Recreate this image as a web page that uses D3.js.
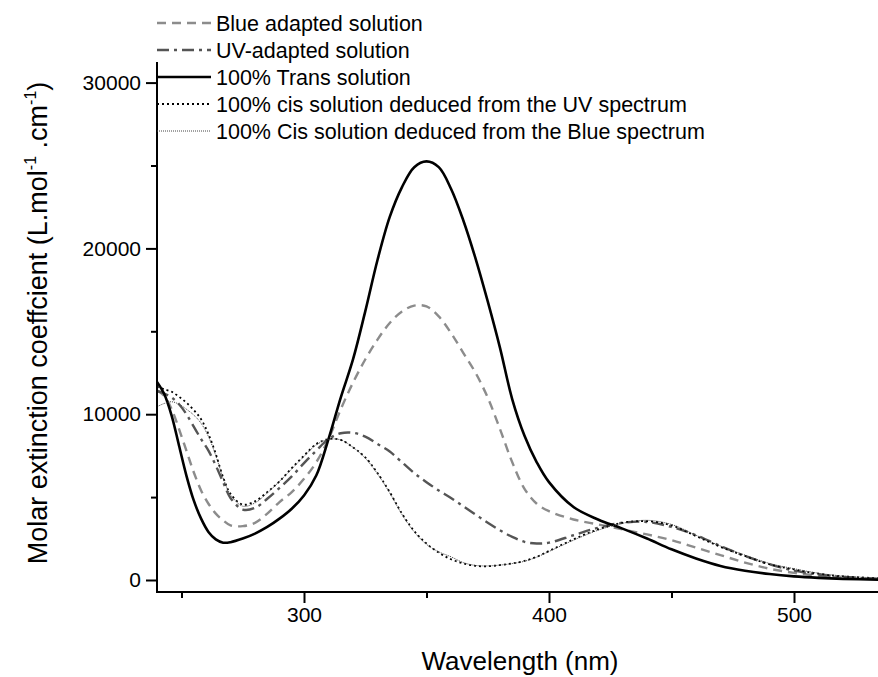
<!DOCTYPE html>
<html>
<head>
<meta charset="utf-8">
<script src="https://cdn.jsdelivr.net/npm/d3@7"></script>
<style>
  body{margin:0;background:#fff;}
  svg{display:block;font-family:"Liberation Sans",Arial,sans-serif;}
</style>
</head>
<body>
<svg id="chart" width="878" height="677"></svg>
<script>
// wavelengths (nm) shared by every series
const wavelength = [240,243,246,249,252,255,258,261,264,267,270,275,280,285,290,295,300,305,310,315,320,325,330,335,340,345,350,355,360,365,370,375,380,385,390,395,400,410,420,430,440,450,460,470,480,490,500,510,520,535];

const blueAdapted = [11450,11100,10300,9100,7800,6500,5400,4600,4000,3600,3300,3250,3450,4000,4700,5300,6100,7100,8500,10300,11900,13300,14500,15500,16200,16550,16500,15900,14900,13700,12500,11000,9100,7100,5500,4600,4150,3650,3350,3050,2750,2400,1950,1500,1050,680,430,260,150,60];
const uvAdapted = [11400,11250,11000,10600,10000,9250,8500,7800,6900,5900,4950,4250,4350,4900,5550,6250,7050,7800,8500,8850,8880,8650,8200,7750,7100,6450,5900,5400,4950,4450,3950,3450,3000,2600,2300,2200,2250,2700,3150,3450,3500,3200,2700,2050,1450,950,570,330,180,60];
const trans = [11950,11200,9900,8100,6300,4800,3700,2900,2450,2250,2280,2500,2800,3200,3700,4300,5100,6300,8500,11000,13300,16200,19300,21900,23700,24900,25250,24900,23600,21700,19400,16800,14000,10900,8700,7100,5900,4400,3650,3100,2500,1850,1300,850,560,360,220,130,70,20];
const cisFromUV = [11650,11500,11350,11050,10700,10250,9700,8800,7600,6200,5200,4550,4750,5300,5950,6750,7500,8200,8500,8450,8000,7400,6450,5300,4000,2950,2200,1650,1250,1000,850,830,900,1000,1150,1400,1750,2450,3050,3450,3550,3300,2650,2000,1450,950,640,380,220,100];
const cisFromBlue = [10450,10650,10750,10600,10300,9950,9450,8650,7500,6150,5150,4450,4650,5250,5950,6700,7450,8150,8480,8450,8000,7350,6400,5250,3950,2900,2150,1700,1400,1050,880,850,900,990,1130,1380,1720,2400,3000,3420,3600,3350,2700,2050,1500,1000,680,410,240,110];

const legendLabels = ["Blue adapted solution","UV-adapted solution","100% Trans solution","100% cis solution deduced from the UV spectrum","100% Cis solution deduced from the Blue spectrum"];
const xTicks = [300,400,500];
const xMinor = [250,350,450];
const yTicks = [0,10000,20000,30000];
const yMinor = [5000,15000,25000];

const series = [
  {values: blueAdapted, stroke:"#8c8c8c", width:2.4, dash:"9,6"},
  {values: uvAdapted,   stroke:"#555",    width:2.4, dash:"12,5,3,5"},
  {values: trans,       stroke:"#000",    width:2.6, dash:null},
  {values: cisFromUV,   stroke:"#000",    width:1.8, dash:"2,3"},
  {values: cisFromBlue, stroke:"#444",    width:1,   dash:"1,1"}
];

const svg = d3.select("#chart");
const left = 157, bottom = 592;

const x = d3.scaleLinear().domain([240, 535]).range([left, left + 295*2.45]);
const y = d3.scaleLinear().domain([-724, 31250]).range([bottom, 580 - 31250*0.01658]);

// curves
const line = d3.line()
  .x((d,i)=>x(wavelength[i]))
  .y(d=>y(d))
  .curve(d3.curveCatmullRom);

svg.append("g").selectAll("path").data(series).enter().append("path")
  .attr("d", d=>line(d.values))
  .attr("fill","none")
  .attr("stroke", d=>d.stroke)
  .attr("stroke-width", d=>d.width)
  .attr("stroke-dasharray", d=>d.dash);

// axes
const xAxis = svg.append("g").attr("transform","translate(0,"+bottom+")");
xAxis.call(d3.axisBottom(x).tickValues(xTicks).tickSize(11).tickPadding(4).tickFormat(d3.format("d")));
xAxis.append("g").call(d3.axisBottom(x).tickValues(xMinor).tickSize(6).tickFormat(""));
xAxis.selectAll(".domain").remove();
xAxis.append("line").attr("x1",left).attr("x2",878).attr("stroke","#000").attr("stroke-width",2);

const yAxis = svg.append("g").attr("transform","translate("+left+",0)");
yAxis.call(d3.axisLeft(y).tickValues(yTicks).tickSize(11).tickPadding(5).tickFormat(d3.format("d")));
yAxis.append("g").call(d3.axisLeft(y).tickValues(yMinor).tickSize(6).tickFormat(""));
yAxis.selectAll(".domain").remove();
yAxis.append("line").attr("y1",bottom+1).attr("y2",y(31250)).attr("stroke","#000").attr("stroke-width",2);

svg.selectAll(".tick line").attr("stroke","#000").attr("stroke-width",2);
svg.selectAll(".tick text").attr("fill","#000").style("font-size","21px").style("font-family","Liberation Sans, Arial, sans-serif");

// axis titles
svg.append("text")
  .attr("x", 520).attr("y", 670)
  .attr("text-anchor","middle")
  .style("font-size","26px")
  .text("Wavelength (nm)");

const yt = svg.append("text")
  .attr("transform","translate(47,323) rotate(-90)")
  .attr("text-anchor","middle")
  .style("font-size","27px");
yt.append("tspan").text("Molar extinction coeffcient (L.mol");
yt.append("tspan").attr("dy",-11).style("font-size","16px").text("-1");
yt.append("tspan").attr("dy",11).text(" .cm");
yt.append("tspan").attr("dy",-11).style("font-size","16px").text("-1");
yt.append("tspan").attr("dy",11).text(")");

// legend
const legend = svg.append("g");
const rows = legend.selectAll("g").data(series).enter().append("g")
  .attr("transform",(d,i)=>"translate(157,"+(23 + i*27)+")");
rows.append("line")
  .attr("x1",0).attr("x2",54)
  .attr("stroke",d=>d.stroke)
  .attr("stroke-width",d=>d.width)
  .attr("stroke-dasharray",d=>d.dash);
rows.append("text")
  .attr("x",59).attr("dy","0.35em")
  .style("font-size","21.5px")
  .text((d,i)=>legendLabels[i]);
</script>
</body>
</html>
